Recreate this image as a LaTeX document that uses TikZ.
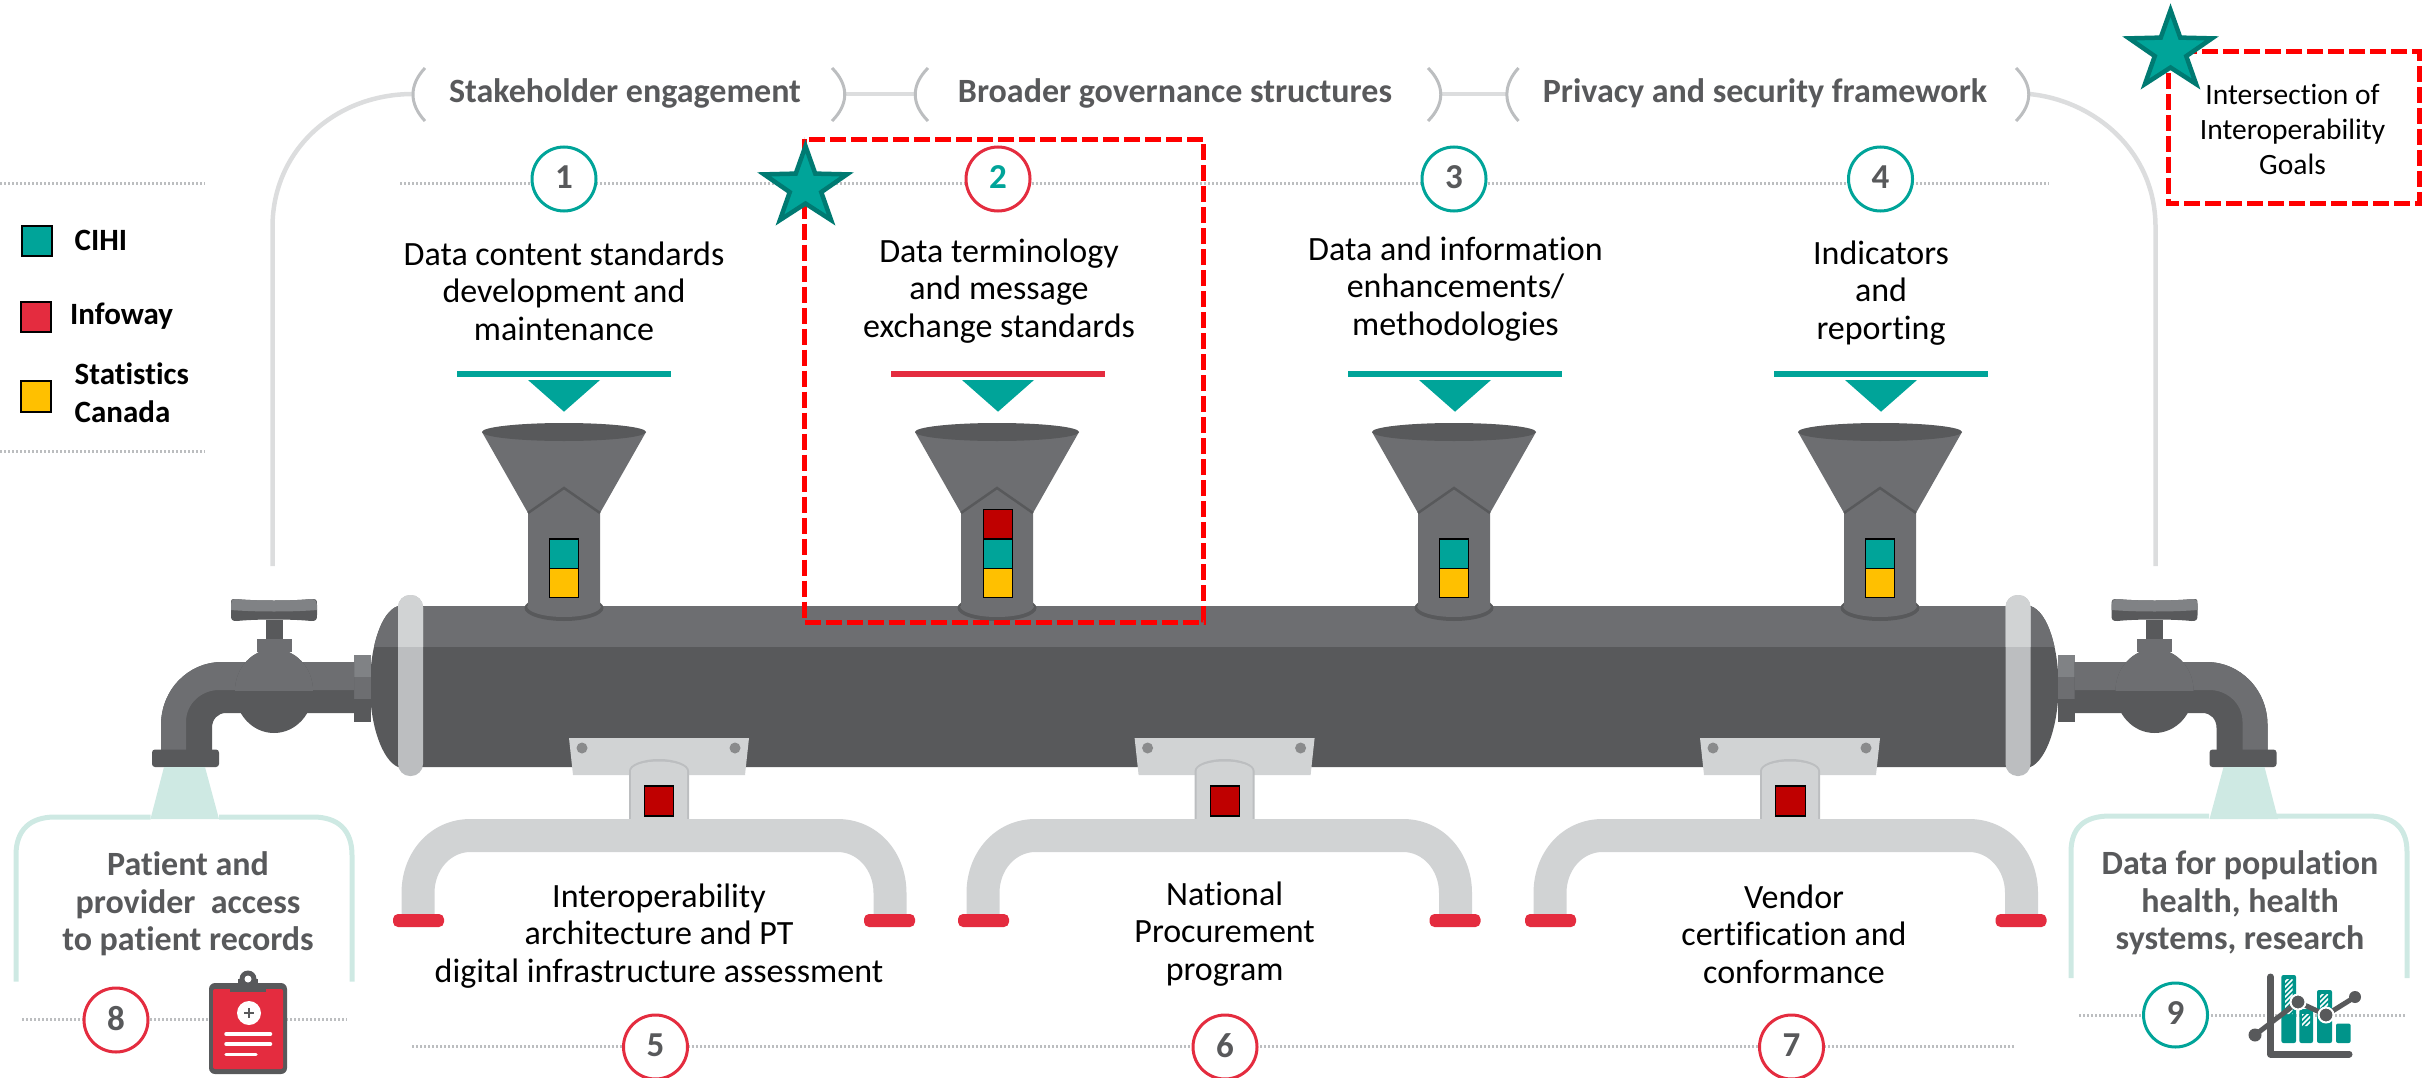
\documentclass[tikz,border=0pt]{standalone}
\usepackage{fontspec}
\setmainfont[Ligatures=NoCommon]{Carlito}
\definecolor{teal1}{HTML}{00A499}
\definecolor{tealdk}{HTML}{007A72}
\definecolor{redA}{HTML}{E42C3F}
\definecolor{redB}{HTML}{BF0000}
\definecolor{yel}{HTML}{FFC000}
\definecolor{g1}{HTML}{58595B}
\definecolor{g2}{HTML}{6D6E71}
\definecolor{g3}{HTML}{808285}
\definecolor{g4}{HTML}{D1D3D4}
\definecolor{g5}{HTML}{BCBEC0}
\definecolor{g6}{HTML}{DCDDDE}
\definecolor{mint}{HTML}{CEE9E3}
\tikzset{
  bodytext/.style={inner sep=0pt,align=center,text=black,font=\fontsize{34}{37.5}\selectfont},
  headtext/.style={inner sep=0pt,align=center,text=g1,font=\bfseries\fontsize{34}{37.5}\selectfont},
  legtext/.style={inner sep=0pt,align=left,anchor=west,text=black,font=\bfseries\fontsize{31}{38}\selectfont},
  numring/.style={circle,draw=#1,line width=3pt,fill=white,minimum size=64pt,inner sep=0pt,text=g1,font=\bfseries\fontsize{35}{35}\selectfont},
  dotline/.style={draw=g5,line width=3pt,dash pattern=on 2pt off 2pt},
  arcline/.style={draw=g6,line width=4.5pt},
  brack/.style={draw=g5,line width=3pt},
  flagsq/.style={draw=black,line width=1.3pt},
  reddash/.style={draw=red,line width=5pt,dash pattern=on 16pt off 5pt},
  capred/.style={fill=redA,rounded corners=5pt},
  mintline/.style={draw=mint,line width=5pt},
}
% tap and pipe end (left version)
\newcommand\tapside{%
  \fill[g3] (354,654.5) rectangle (371,677);
  \fill[g2] (354,677) rectangle (371,699);
  \fill[g1] (354,699) rectangle (371,722);
  \fill[g1] (354,662) -- (222,662) .. controls (188,662) and (161,690) .. (161,725) -- (161,750) -- (212,750) -- (212,728) .. controls (212,719) and (218,713) .. (226,713) -- (354,713) -- cycle;
  \fill[g2] (354,662) -- (222,662) .. controls (188,662) and (161,690) .. (161,725) -- (161,750) -- (186,750) -- (186,722) .. controls (186,703) and (202,690) .. (219,690) -- (354,690) -- cycle;
  \fill[g1] (274,691) ellipse [x radius=39, y radius=42];
  \begin{scope}
    \clip (230,640) rectangle (320,690);
    \fill[g2] (274,691) ellipse [x radius=39, y radius=42];
  \end{scope}
  \fill[g2] (257,639) rectangle (292,652);
  \fill[g1] (266,620) rectangle (283,639);
  \fill[g1] (236,599) .. controls (231,599) and (231,599) .. (231,605) -- (231,615) .. controls (231,620) and (232,621) .. (237,621) .. controls (255,619) and (293,619) .. (311,621) .. controls (316,621) and (317,620) .. (317,615) -- (317,605) .. controls (317,599) and (316,599) .. (311,599) .. controls (293,601) and (255,601) .. (236,599) -- cycle;
  \fill[g3] (236,599) .. controls (231,599) and (231,601) .. (231,610) .. controls (255,612) and (293,612) .. (317,610) .. controls (317,601) and (316,599) .. (311,599) .. controls (293,601) and (255,601) .. (236,599) -- cycle;
  \fill[g1,rounded corners=3pt] (152,749.5) rectangle (219,767);
  \fill[mint] (164,767) -- (205,767) -- (219,819) -- (150.5,819) -- cycle;
  \fill[g5,rounded corners=12pt] (398,595) rectangle (423,776);
  \begin{scope}
    \clip (390,590) rectangle (430,646);
    \fill[g4,rounded corners=12pt] (398,595) rectangle (423,776);
  \end{scope}
}
\newcommand\funnel[1]{%
  \begin{scope}[shift={(#1,0)}]
    \fill[g1] (0,608) ellipse [x radius=39.5, y radius=13];
    \fill[g2] (-37,606) arc [start angle=180,end angle=0,x radius=37,y radius=11] -- cycle;
    \fill[g2] (-82,432) -- (82,432) -- (36,513) -- (36,608) -- (-36,608) -- (-36,513) -- cycle;
    \draw[g1,line width=2.5pt] (-36,513) -- (0,488) -- (36,513);
    \fill[g1] (0,432) ellipse [x radius=82, y radius=9];
  \end{scope}%
}
\newcommand\dropper[1]{%
  \begin{scope}[shift={(#1,0)}]
    \fill[g4] (-90,738) -- (90,738) -- (86,775) -- (-86,775) -- cycle;
    \fill[g1!70!white] (-77,748) ellipse [radius=5.5];
    \fill[g1!70!white] (76,748) ellipse [radius=5.5];
    \fill[g5] (-30,771) arc [start angle=180,end angle=360,x radius=30,y radius=12] -- (30,822) arc [start angle=0,end angle=180,x radius=30,y radius=12.5] -- cycle;
  \end{scope}%
}
\newcommand\dropperfront[1]{%
  \begin{scope}[shift={(#1,0)}]
    \fill[g4] (-28,771) arc [start angle=180,end angle=360,x radius=28,y radius=9.5] -- (28,822) arc [start angle=0,end angle=180,x radius=28,y radius=9.5] -- cycle;
  \end{scope}%
}
\newcommand\arch[2]{%
  \path[fill=g4] ({#1-17},915) -- ({#1-17},893) .. controls ({#1-17},852) and ({#1+12},819) .. ({#1+52},819) -- ({#2-52},819) .. controls ({#2-12},819) and ({#2+17},852) .. ({#2+17},893) -- ({#2+17},915) -- ({#2-16},915) -- ({#2-16},893) .. controls ({#2-16},870) and ({#2-32},852) .. ({#2-52},852) -- ({#1+52},852) .. controls ({#1+32},852) and ({#1+16},870) .. ({#1+16},893) -- ({#1+16},915) -- cycle;
  \fill[capred] ({#1-25.5},914) rectangle ({#1+25.5},927);
  \fill[capred] ({#2-25.5},914) rectangle ({#2+25.5},927);
}
\newcommand\starmark[2]{%
  \begin{scope}[shift={(#1,#2)},scale=.87]
    \filldraw[fill=teal1,draw=tealdk,line width=4.5pt,miter limit=12] (0,-47) -- (11.2,-15.4) -- (47.6,-14.5) -- (18.1,5.9) -- (29.4,38) -- (0,19) -- (-29.4,38) -- (-18.1,5.9) -- (-47.6,-14.5) -- (-11.2,-15.4) -- cycle;
  \end{scope}%
}
\begin{document}
\begin{tikzpicture}[x=1pt,y=-1pt]
\useasboundingbox (0,0) rectangle (2432,1078);
\coordinate (legT0) at (0,183.3);  \coordinate (legT1) at (205,183.3);
\coordinate (legB0) at (0,451.7);  \coordinate (legB1) at (205,451.7);
\coordinate (topA) at (400,183.3); \coordinate (topB) at (2049,183.3);
\coordinate (botA) at (412,1046.5); \coordinate (botB) at (2015,1046.5);
\coordinate (lftA) at (22,1019);   \coordinate (lftB) at (347,1019);
\coordinate (rgtA) at (2079,1015); \coordinate (rgtB) at (2405,1015);
\coordinate (b1l) at (413,94); \coordinate (b1r) at (845.5,94);
\coordinate (b2l) at (915,94); \coordinate (b2r) at (1441,94);
\coordinate (b3l) at (1507,94); \coordinate (b3r) at (2029,94);
\coordinate (tapL) at (272.5,566); \coordinate (tapR) at (2155.5,566);
\draw[dotline] (legT0) -- (legT1);
\draw[dotline] (legB0) -- (legB1);
\draw[dotline] (topA) -- (topB);
\draw[dotline] (botA) -- (botB);
\draw[dotline] (lftA) -- (lftB);
\draw[dotline] (rgtA) -- (rgtB);
\draw[arcline] (tapL) -- (272.5,227) .. controls (272.5,150) and (335,94) .. (b1l);
\draw[arcline] (tapR) -- (2155.5,227) .. controls (2155.5,150) and (2093,100) .. (b3r);
\draw[arcline] (b1r) -- (b2l);
\draw[arcline] (b2r) -- (b3l);
\draw[brack] (425,68) .. controls (409,85) and (409,104) .. (425,121);
\draw[brack] (832,68) .. controls (849,85) and (849,104) .. (832,121);
\draw[brack] (928,68) .. controls (911,85) and (911,104) .. (928,121);
\draw[brack] (1428,68) .. controls (1445,85) and (1445,104) .. (1428,121);
\draw[brack] (1518.5,68) .. controls (1503,85) and (1503,104) .. (1518.5,121);
\draw[brack] (2016,68) .. controls (2033,85) and (2033,104) .. (2016,121);
\node[headtext] (h1) at (625,93.5) {Stakeholder engagement};
\node[headtext] (h2) at (1175,93.5) {Broader governance structures};
\node[headtext] (h3) at (1765,93.5) {Privacy and security framework};
\def\pipepath{(398,606) .. controls (380,612) and (370,650) .. (370,686) .. controls (370,725) and (382,760) .. (398,767) -- (2030.5,767) .. controls (2046.5,760) and (2058.5,725) .. (2058.5,686) .. controls (2058.5,650) and (2048.5,612) .. (2030.5,606) -- cycle}
\fill[g1] \pipepath;
\begin{scope}
  \clip (360,600) rectangle (2070,646);
  \fill[g2] \pipepath;
\end{scope}
\tapside
\begin{scope}[xshift=2428.5pt,xscale=-1]
  \tapside
\end{scope}
\dropper{659}\dropper{1224.6}\dropper{1790}
\arch{418.5}{889.5}
\arch{983.5}{1455}
\arch{1550.5}{2021}
\dropperfront{659}\dropperfront{1224.6}\dropperfront{1790}
\foreach \x in {659,1225,1790.5}{
  \draw[flagsq,fill=redB] ({\x-14.7},786) rectangle ({\x+14.7},816);
}
\funnel{564}\funnel{997}\funnel{1454}\funnel{1880}
\foreach \x in {564,998,1454,1880}{
  \draw[flagsq,fill=teal1] ({\x-14.7},539) rectangle ({\x+14.7},568.5);
  \draw[flagsq,fill=yel] ({\x-14.7},568.5) rectangle ({\x+14.7},597.7);
}
\draw[flagsq,fill=redB] (983.3,509.3) rectangle (1012.7,539);
\foreach \x/\c in {564/teal1,998/redA,1455/teal1,1881/teal1}{
  \fill[\c] ({\x-107},371) rectangle ({\x+107},377);
  \fill[teal1] ({\x-36},380) -- ({\x+36},380) -- (\x,411.7) -- cycle;
}
\node[numring=teal1] (n1) at (564,179) {\raisebox{3pt}{1}};
\node[numring=redA,text=teal1] (n2) at (998,179) {\raisebox{3pt}{2}};
\node[numring=teal1] (n3) at (1454,179) {\raisebox{3pt}{3}};
\node[numring=teal1] (n4) at (1880.5,179) {\raisebox{3pt}{4}};
\node[numring=redA] (n5) at (655.5,1047) {\raisebox{3pt}{5}};
\node[numring=redA] (n6) at (1225,1047) {\raisebox{3pt}{6}};
\node[numring=redA] (n7) at (1791.5,1047) {\raisebox{3pt}{7}};
\node[numring=redA] (n8) at (116,1020) {\raisebox{3pt}{8}};
\node[numring=teal1] (n9) at (2175.5,1015) {\raisebox{3pt}{9}};
\node[bodytext] (t1) at (564,291) {Data content standards\\development and\\maintenance};
\node[bodytext] (t2) at (999,291) {Data terminology\\and message\\exchange standards};
\node[bodytext] (t3) at (1455.5,289) {Data and information\\enhancements/\\methodologies};
\node[bodytext] (t4) at (1881,293) {Indicators\\and\\reporting};
\node[bodytext] (t5) at (659,936) {Interoperability\\architecture and PT\\digital infrastructure assessment};
\node[bodytext] (t6) at (1224.6,934) {National\\Procurement\\program};
\node[bodytext] (t7) at (1794,934) {Vendor\\certification and\\conformance};
\node[headtext] (t8) at (188,904) {Patient and\\provider\ \ access\\to patient records};
\node[headtext] (t9) at (2240,903) {Data for population\\health, health\\systems, research};
\draw[mintline] (16,981.5) -- (16,855) .. controls (16,830) and (30,817) .. (55,817) -- (150.5,817);
\draw[mintline] (219,817) -- (313,817) .. controls (338,817) and (352,830) .. (352,855) -- (352,981.5);
\draw[mintline] (2071,978) -- (2071,852) .. controls (2071,827) and (2085,816) .. (2110,816) -- (2209,816);
\draw[mintline] (2276,816) -- (2368,816) .. controls (2393,816) and (2407,827) .. (2407,852) -- (2407,978);
\fill[g1,rounded corners=6pt] (209,983) rectangle (287,1074);
\fill[redA,rounded corners=2pt] (213,989) rectangle (283,1069);
\fill[g1] (248,979) circle [radius=8.5];
\fill[g1] (230,985) rectangle (266,992);
\fill[g1] (238,979) rectangle (258,986);
\fill[white] (248,979) circle [radius=3.5];
\fill[white] (249,1013) circle [radius=12];
\draw[g1,line width=2.2pt] (244,1013) -- (254,1013) (249,1008) -- (249,1018);
\draw[white,line width=3.5pt,line cap=round] (226,1034) -- (270.5,1034);
\draw[white,line width=3.5pt,line cap=round] (226,1044) -- (270.5,1044);
\draw[white,line width=3.5pt,line cap=round] (226,1054.5) -- (256,1054.5);
\foreach \a/\b/\t in {2281.4/2296/975,2299.4/2313/1009,2317/2332/990,2336/2350.6/1023.5}{
  \fill[teal1!90!black,rounded corners=2pt] (\a,\t) rectangle (\b,1043);
}
\begin{scope}
  \clip (2285,979) rectangle (2292.5,1014) (2302,1014) rectangle (2310,1026) (2320,994) rectangle (2328,1010) (2339,1027) rectangle (2347,1036);
  \foreach \k in {0,5,...,80}{
    \draw[white,line width=1.6pt] (2280,{972+\k}) -- (2352,{972+\k-72});
  }
\end{scope}
\draw[g1,line width=7pt,line cap=round,line join=round] (2270.5,977) -- (2270.5,1054) -- (2349,1054);
\draw[g1,line width=5pt] (2255,1035) -- (2298,1002) -- (2326,1015) -- (2355,997);
\fill[g1] (2255,1035) circle [radius=6.5];
\filldraw[fill=g1,draw=white,line width=2pt] (2298,1002) circle [radius=7.5];
\filldraw[fill=g1,draw=white,line width=2pt] (2326,1015) circle [radius=7.5];
\fill[g1] (2355,997) circle [radius=6];
\draw[flagsq,line width=1.8pt,fill=teal1] (22,226) rectangle (52,256);
\draw[flagsq,line width=1.8pt,fill=redA] (21,302) rectangle (51,332);
\draw[flagsq,line width=1.8pt,fill=yel] (21,381) rectangle (51,412);
\node[legtext] (l1) at (74.5,240) {CIHI};
\node[legtext] (l2) at (70,316) {Infoway};
\node[legtext] (l3) at (74.5,393) {Statistics\\Canada};
\draw[reddash] (804,139.5) rectangle (1203.5,622);
\draw[reddash] (2168,52) rectangle (2419,204);
\node[bodytext,font=\fontsize{29.5}{35}\selectfont] (k) at (2292.5,129) {Intersection of\\Interoperability\\Goals};
\starmark{805.5}{187}
\starmark{2170.5}{51}
\end{tikzpicture}
\end{document}
